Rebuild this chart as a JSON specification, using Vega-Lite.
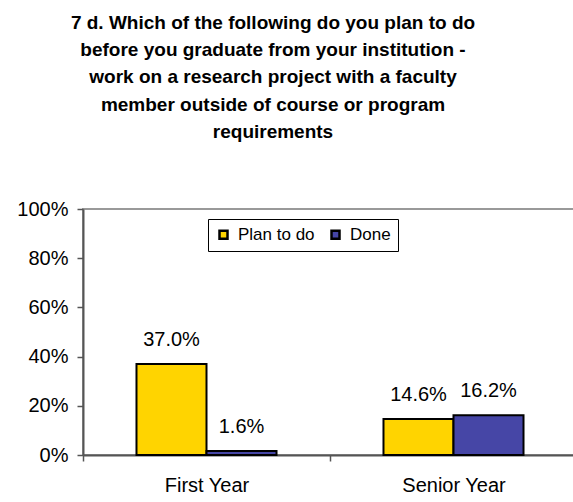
{
  "$schema": "https://vega.github.io/schema/vega-lite/v6.json",
  "width": 494,
  "height": 246,
  "autosize": {"type": "none"},
  "padding": {"left": 83, "top": 209, "right": 0, "bottom": 47},
  "background": "white",
  "title": {
    "text": [
      "7 d. Which of the following do you plan to do",
      "before you graduate from your institution -",
      "work on a research project with a faculty",
      "member outside of course or program",
      "requirements"
    ],
    "anchor": "middle",
    "frame": "group",
    "dx": -57,
    "font": "Liberation Sans",
    "fontSize": 19,
    "fontWeight": "bold",
    "lineHeight": 27.3,
    "offset": 57,
    "color": "black"
  },
  "data": {
    "values": [
      {"year": "First Year", "status": "Plan to do", "pct": 0.370},
      {"year": "First Year", "status": "Done", "pct": 0.016},
      {"year": "Senior Year", "status": "Plan to do", "pct": 0.146},
      {"year": "Senior Year", "status": "Done", "pct": 0.162}
    ]
  },
  "encoding": {
    "x": {
      "field": "year",
      "type": "nominal",
      "sort": ["First Year", "Senior Year"],
      "scale": {"paddingInner": 0, "paddingOuter": 0},
      "axis": {
        "title": null,
        "labelAngle": 0,
        "labelFont": "Liberation Sans",
        "labelFontSize": 20,
        "labelColor": "black",
        "labelPadding": 14,
        "tickBand": "extent",
        "tickSize": 6,
        "tickColor": "#555555",
        "tickWidth": 1.5,
        "domainColor": "#555555",
        "domainWidth": 2
      }
    },
    "xOffset": {
      "field": "status",
      "type": "nominal",
      "sort": ["Plan to do", "Done"],
      "scale": {"paddingInner": 0, "paddingOuter": 0.764}
    },
    "y": {
      "field": "pct",
      "type": "quantitative",
      "scale": {"domain": [0, 1]},
      "axis": {
        "title": null,
        "values": [0, 0.2, 0.4, 0.6, 0.8, 1],
        "format": ".0%",
        "grid": false,
        "labelFont": "Liberation Sans",
        "labelFontSize": 20,
        "labelColor": "black",
        "labelPadding": 9,
        "tickSize": 6,
        "tickColor": "#555555",
        "tickWidth": 1.5,
        "domainColor": "#555555",
        "domainWidth": 2
      }
    }
  },
  "layer": [
    {
      "mark": {"type": "bar", "stroke": "black", "strokeWidth": 2},
      "encoding": {
        "color": {
          "field": "status",
          "type": "nominal",
          "scale": {"domain": ["Plan to do", "Done"], "range": ["#FFD400", "#4646A6"]},
          "legend": {
            "title": null,
            "orient": "none",
            "legendX": 125,
            "legendY": 10,
            "direction": "horizontal",
            "padding": 7,
            "strokeColor": "black",
            "symbolType": "square",
            "symbolSize": 64,
            "symbolStrokeColor": "black",
            "symbolStrokeWidth": 2.5,
            "labelFont": "Liberation Sans",
            "labelFontSize": 17,
            "labelColor": "black",
            "labelOffset": 6,
            "columnPadding": 11
          }
        }
      }
    },
    {
      "mark": {"type": "text", "baseline": "middle", "dy": -24, "font": "Liberation Sans", "fontSize": 20, "color": "black"},
      "encoding": {
        "text": {"field": "pct", "type": "quantitative", "format": ".1%"}
      }
    }
  ],
  "config": {
    "view": {"stroke": "#999999", "strokeWidth": 2}
  }
}
